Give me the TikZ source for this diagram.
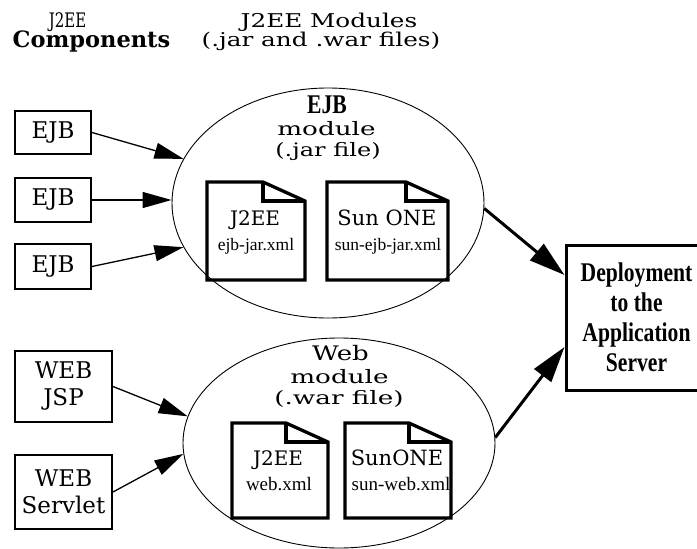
\documentclass[tikz,border=0pt]{standalone}
\usepackage{fontspec}
\setmainfont{DejaVu Serif}
\newfontfamily\widefont[FakeStretch=1.3]{DejaVu Serif}
\newfontfamily\xwidefont[FakeStretch=1.42]{DejaVu Serif}
\newfontfamily\narrowfont[FakeStretch=0.75]{DejaVu Serif}
\newfontfamily\timesfont{Liberation Serif}
\newfontfamily\condfont[FakeStretch=0.8]{Liberation Serif}
\usetikzlibrary{arrows.meta,shapes.geometric}

\tikzset{
  compbox/.style={draw, line width=2pt, inner sep=0pt, align=center,
    font=\fontsize{23pt}{27pt}\selectfont},
  modring/.style={draw, ellipse, line width=0.9pt, inner sep=0pt},
  docline/.style={line width=3.3pt},
  lbl/.style={anchor=base, inner sep=0pt},
  widelbl/.style={lbl, font=\widefont\fontsize{18.5pt}{22pt}\selectfont},
  xwidelbl/.style={lbl, font=\xwidefont\fontsize{18.5pt}{22pt}\selectfont},
  xmllbl/.style={lbl, font=\timesfont\fontsize{17.5pt}{21pt}\selectfont},
  feed/.style={-{Triangle[length=29pt,width=16pt]}, line width=1.3pt},
  ship/.style={-{Triangle[length=36pt,width=21pt]}, line width=3pt},
}

\begin{document}
\begin{tikzpicture}[x=1pt,y=-1pt]
  \useasboundingbox (0,0) rectangle (697,549);

  % headings
  \node[lbl, font=\narrowfont\fontsize{20pt}{24pt}\selectfont] (hdjee) at (67.5,27) {J2EE};
  \node[lbl, font=\bfseries\fontsize{22.5pt}{26pt}\selectfont] (hdcomp) at (91.5,47) {Components};
  \node[lbl, font=\widefont\fontsize{19pt}{22pt}\selectfont] (hdmod) at (329,27) {J2EE Modules};
  \node[lbl, font=\widefont\fontsize{19pt}{22pt}\selectfont] (hdfiles) at (321,46.5) {(.jar and .war files)};

  % components
  \node[compbox, minimum width=76pt, minimum height=43pt] (ejbA) at (53,132.5) {EJB};
  \node[compbox, minimum width=76pt, minimum height=44pt] (ejbB) at (53,200) {EJB};
  \node[compbox, minimum width=76pt, minimum height=45pt] (ejbC) at (53,266.5) {EJB};
  \node[compbox, minimum width=97pt, minimum height=71pt] (webA) at (63.5,386.5) {WEB\\JSP};
  \node[compbox, minimum width=97pt, minimum height=74pt] (webB) at (63.5,492) {WEB\\Servlet};

  % modules
  \node[modring, minimum width=312pt, minimum height=230pt] (ejbmod) at (328,203) {};
  \node[modring, minimum width=312pt, minimum height=210pt] (webmod) at (339,443) {};

  \node[lbl, font=\condfont\bfseries\fontsize{27pt}{30pt}\selectfont] (ejbname) at (327,113) {EJB};
  \node[xwidelbl] (ejbkind) at (326.5,135) {module};
  \node[widelbl] (ejbfile) at (328,156) {(.jar file)};
  \node[lbl, font=\widefont\fontsize{20pt}{24pt}\selectfont] (webname) at (340.5,360) {Web};
  \node[xwidelbl] (webkind) at (339.5,383) {module};
  \node[xwidelbl] (webfile) at (339,404) {(.war file)};

  % descriptors
  \foreach \l/\t/\r/\b in {207/182/305/280, 327/182/448/280, 232/423/328/518, 345/423/451/518}{
    \draw[docline] (\l,\t) -- (\r-42,\t) -- (\r,\t+19) -- (\r,\b) -- (\l,\b) -- cycle;
    \draw[docline] (\r-42,\t) |- (\r,\t+19);
  }
  \node[lbl, font=\fontsize{20pt}{24pt}\selectfont] (ejbstd) at (255,225) {J2EE};
  \node[xmllbl] (ejbstdxml) at (256,250) {ejb-jar.xml};
  \node[lbl, font=\fontsize{21pt}{24pt}\selectfont] (ejbsun) at (387,225) {Sun ONE};
  \node[xmllbl] (ejbsunxml) at (388,250) {sun-ejb-jar.xml};
  \node[lbl, font=\fontsize{20pt}{24pt}\selectfont] (webstd) at (278,465) {J2EE};
  \node[xmllbl, font=\timesfont\fontsize{19pt}{22pt}\selectfont] (webstdxml) at (279,490) {web.xml};
  \node[lbl, font=\fontsize{21pt}{24pt}\selectfont] (websun) at (397,465) {SunONE};
  \node[xmllbl, font=\timesfont\fontsize{19pt}{22pt}\selectfont] (websunxml) at (401,490) {sun-web.xml};

  % server
  \node[draw, line width=3pt, minimum width=141pt, minimum height=145pt, inner sep=0pt,
    align=center, font=\condfont\bfseries\fontsize{27pt}{30pt}\selectfont] (appserver) at (636.5,317.5)
    {Deployment\\to the\\Application\\Server};

  % arrows
  \draw[feed] (ejbA.east) -- (ejbmod.163);
  \draw[feed] (ejbB.east) -- (ejbB.east -| ejbmod.west);
  \draw[feed] (ejbC.east) -- (ejbmod.197);
  \draw[feed] (webA.east) -- (webmod.170);
  \draw[feed] (webB.east) -- (webmod.184);
  \draw[ship] (ejbmod.358) -- ([yshift=42.5pt]appserver.west);
  \draw[ship] (webmod.2) -- ([yshift=-29.5pt]appserver.west);
\end{tikzpicture}
\end{document}
